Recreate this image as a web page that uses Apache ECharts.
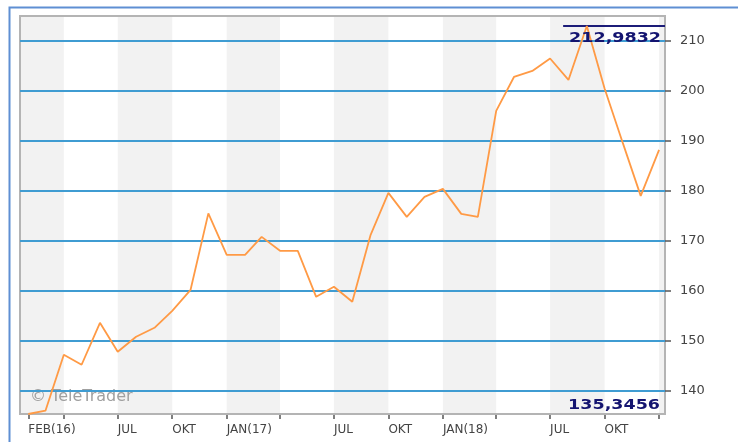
<!DOCTYPE html>
<html>
<head>
<meta charset="utf-8">
<title>TeleTrader chart</title>
<script src="https://cdn.jsdelivr.net/npm/echarts@6/dist/echarts.min.js"></script>
<style>
  html, body { margin: 0; padding: 0; background: #fff; }
  #main { width: 738px; height: 442px; }
</style>
</head>
<body>
<div id="main"></div>
<script>
  // monthly closes
  var months = ['2016-02-01','2016-03-01','2016-04-01','2016-05-01','2016-06-01','2016-07-01',
    '2016-08-01','2016-09-01','2016-10-01','2016-11-01','2016-12-01','2017-01-01',
    '2017-02-01','2017-03-01','2017-04-01','2017-05-01','2017-06-01','2017-07-01',
    '2017-08-01','2017-09-01','2017-10-01','2017-11-01','2017-12-01','2018-01-01',
    '2018-02-01','2018-03-01','2018-04-01','2018-05-01','2018-06-01','2018-07-01',
    '2018-08-01','2018-09-01','2018-10-01','2018-11-01','2018-12-01','2019-01-01'];
  var closes = [135.3456, 136.0, 147.2, 145.2, 153.6, 147.8,
    150.8, 152.6, 156.0, 160.2, 175.5, 167.2,
    167.2, 170.8, 168.0, 168.0, 158.8, 160.8,
    157.8, 171.2, 179.6, 174.8, 178.8, 180.4,
    175.4, 174.8, 196.0, 202.8, 204.0, 206.5,
    202.2, 212.9832, 200.5, 189.5, 179.0, 188.2];

  var yTicks = [140, 150, 160, 170, 180, 190, 200, 210];
  var xTicks = ['2016-02-01','2016-04-01','2016-07-01','2016-10-01','2017-01-01','2017-04-01',
    '2017-07-01','2017-10-01','2018-01-01','2018-04-01','2018-07-01','2018-10-01','2019-01-01'];
  var xLabelDates = ['2016-02-01','2016-07-01','2016-10-01','2017-01-01','2017-07-01',
    '2017-10-01','2018-01-01','2018-07-01','2018-10-01'];
  var xLabelTexts = ['FEB(16)','JUL','OKT','JAN(17)','JUL','OKT','JAN(18)','JUL','OKT'];
  // grey quarter stripes
  var stripes = [['2016-01-18','2016-04-01'],['2016-07-01','2016-10-01'],['2017-01-01','2017-04-01'],
    ['2017-07-01','2017-10-01'],['2018-01-01','2018-04-01'],['2018-07-01','2018-10-01'],
    ['2019-01-01','2019-01-11']];

  function t(s){ var p = s.split('-'); return new Date(+p[0], +p[1]-1, +p[2]).getTime(); }
  function fmt(v){ return v.toFixed(4).replace('.', ','); }

  var maxVal = Math.max.apply(null, closes);
  var minVal = Math.min.apply(null, closes);
  var labelTimes = xLabelDates.map(t);

  var chart = echarts.init(document.getElementById('main'));
  chart.setOption({
    backgroundColor: '#fff',
    animation: false,
    grid: {
      left: 20, top: 16, right: 73, bottom: 28, z: 2,
      show: true, backgroundColor: 'transparent',
      borderColor: '#b4b4b4', borderWidth: 2
    },
    graphic: [
      { type: 'rect', left: 7, top: 5, z: 10, silent: true,
        shape: { width: 760, height: 460 },
        style: { fill: 'none', stroke: '#5f8fd3', lineWidth: 2 } },
      { type: 'text', left: 30, top: 389, z: 3,
        style: { text: '© TeleTrader', fill: '#a0a0a0', font: '16px "DejaVu Sans"' } },
      { type: 'text', x: 661, y: 38, z: 20, scaleX: 1.25,
        style: { text: fmt(maxVal), fill: '#141470', font: 'bold 14px "DejaVu Sans"',
          align: 'right', verticalAlign: 'middle' } },
      { type: 'text', x: 660, y: 405, z: 20, scaleX: 1.25,
        style: { text: fmt(minVal), fill: '#141470', font: 'bold 14px "DejaVu Sans"',
          align: 'right', verticalAlign: 'middle' } }
    ],
    xAxis: {
      type: 'value',
      min: t('2016-01-18'),
      max: t('2019-01-11'),
      axisLine: { show: false },
      axisTick: { show: true, length: 5, customValues: xTicks.map(t),
        lineStyle: { color: '#555', width: 1.5 } },
      axisLabel: {
        customValues: labelTimes,
        align: 'left', margin: 10,
        color: '#444', fontSize: 12, fontFamily: 'DejaVu Sans',
        formatter: function(v){
          var i = labelTimes.indexOf(v);
          return i >= 0 ? xLabelTexts[i] : '';
        }
      },
      splitLine: { show: false }
    },
    yAxis: {
      type: 'value',
      position: 'right',
      z: 3,
      min: minVal, max: 215,
      splitNumber: 8,
      axisLine: { show: false },
      axisTick: { show: true, length: 6, customValues: yTicks,
        lineStyle: { color: '#555', width: 1.5 } },
      axisLabel: { customValues: yTicks, margin: 15, color: '#444',
        fontSize: 13, fontFamily: 'DejaVu Sans' },
      splitLine: { show: true, showMinLine: true, showMaxLine: true,
        lineStyle: { color: '#3f9cd2', width: 2 } }
    },
    series: [
      {
        type: 'line', z: 1, silent: true, data: [],
        markArea: {
          silent: true,
          itemStyle: { color: '#f2f2f2' },
          data: stripes.map(function(s){ return [{ xAxis: t(s[0]) }, { xAxis: t(s[1]) }]; })
        }
      },
      {
        type: 'line', z: 5,
        data: months.map(function(m, i){ return [t(m), closes[i]]; }),
        symbol: 'none',
        lineStyle: { color: '#ff9a45', width: 1.8 },
        markLine: {
          silent: true, symbol: 'none', label: { show: false },
          lineStyle: { color: '#1c1c78', width: 2, type: 'solid' },
          data: [[{ coord: [t('2018-07-23'), maxVal] }, { coord: [t('2019-01-11'), maxVal] }]]
        }
      }
    ]
  });
</script>
</body>
</html>
